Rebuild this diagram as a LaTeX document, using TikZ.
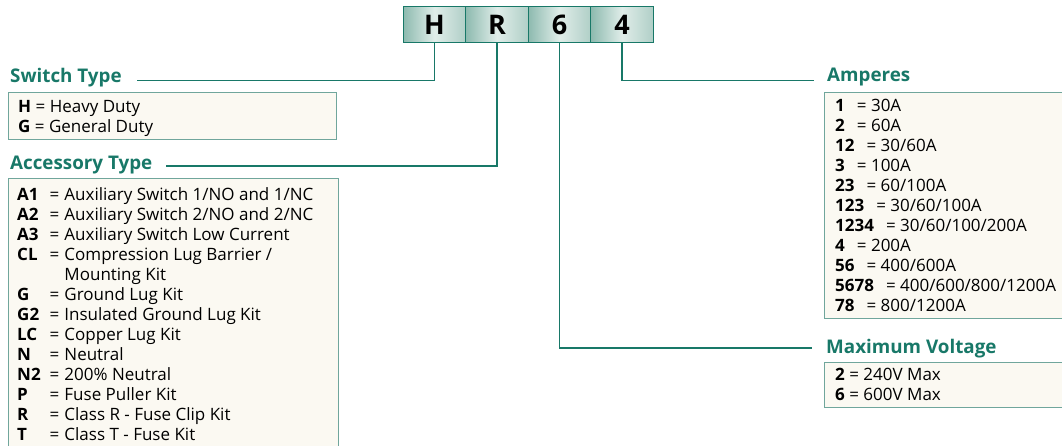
\documentclass[tikz,border=0pt]{standalone}
\usepackage{fontspec}
\setmainfont{Open Sans}
\usetikzlibrary{positioning}
\definecolor{petrol}{RGB}{24,120,104}
\definecolor{boxline}{RGB}{112,166,156}
\definecolor{cream}{RGB}{251,249,242}
\definecolor{celldark}{RGB}{141,186,175}
\definecolor{celllight}{RGB}{224,237,233}
\definecolor{cellmid}{RGB}{176,207,199}
\newcommand{\ampline}[2]{\textbf{#1}\hspace{12pt}= #2}

\begin{document}
\begin{tikzpicture}[x=1pt,y=-1pt,
  cell/.style={draw=petrol,line width=1pt,minimum width=62.5pt,minimum height=36pt,
    inner sep=0pt,outer sep=0pt,left color=celldark,right color=cellmid,middle color=celllight,
    font=\fontsize{27}{27}\selectfont\bfseries},
  title/.style={anchor=base west,inner sep=0pt,text=petrol,font=\fontsize{18.8}{19}\selectfont\bfseries},
  link/.style={draw=petrol,line width=1.2pt},
  panel/.style={draw=boxline,fill=cream,line width=1pt},
  entry/.style={anchor=base west,inner sep=0pt,font=\fontsize{17}{20}\selectfont}]
  \clip (0,0) rectangle (1062,446);
  % code cells
  \node[cell] (h) at (434.5,25) {H};
  \node[cell,right=0pt of h] (r) {R};
  \node[cell,right=0pt of r] (six) {6};
  \node[cell,right=0pt of six] (four) {4};
  % titles
  \node[title] (swtitle) at (10,83) {Switch Type};
  \node[title] (actitle) at (10,170) {Accessory Type};
  \node[title] (amptitle) at (827,82) {Amperes};
  \node[title] (volttitle) at (826,353) {Maximum Voltage};
  % panels
  \draw[panel] (8,93) rectangle (336,140);
  \draw[panel] (8,179) rectangle (338,460);
  \draw[panel] (824,93) rectangle (1070,318);
  \draw[panel] (824,362) rectangle (1070,407);
  % connectors
  \coordinate (swend) at (137,80.5);
  \coordinate (acend) at (166,166);
  \coordinate (ampend) at (814,80.5);
  \coordinate (voltend) at (812,348);
  \draw[link] (h.south) |- (swend);
  \draw[link] (r.south) |- (acend);
  \draw[link] (six.south) |- (voltend);
  \draw[link] (four.south) |- (ampend);
  % entries
  \node[entry] (swlist) at (18,113) {\begin{tabular}[t]{@{}l@{}}
    \textbf{H} = Heavy Duty\\
    \textbf{G} = General Duty
  \end{tabular}};
  \node[entry] (aclist) at (17,200.5) {\begin{tabular}[t]{@{}l@{\hspace{9pt}}l@{\hspace{5pt}}l@{}}
    \textbf{A1} & = & Auxiliary Switch 1/NO and 1/NC\\
    \textbf{A2} & = & Auxiliary Switch 2/NO and 2/NC\\
    \textbf{A3} & = & Auxiliary Switch Low Current\\
    \textbf{CL} & = & Compression Lug Barrier /\\
                &   & Mounting Kit\\
    \textbf{G}  & = & Ground Lug Kit\\
    \textbf{G2} & = & Insulated Ground Lug Kit\\
    \textbf{LC} & = & Copper Lug Kit\\
    \textbf{N}  & = & Neutral\\
    \textbf{N2} & = & 200\% Neutral\\
    \textbf{P}  & = & Fuse Puller Kit\\
    \textbf{R}  & = & Class R - Fuse Clip Kit\\
    \textbf{T}  & = & Class T - Fuse Kit
  \end{tabular}};
  \node[entry] (amplist) at (835,111.5) {\begin{tabular}[t]{@{}l@{}}
    \ampline{1}{30A}\\
    \ampline{2}{60A}\\
    \ampline{12}{30/60A}\\
    \ampline{3}{100A}\\
    \ampline{23}{60/100A}\\
    \ampline{123}{30/60/100A}\\
    \ampline{1234}{30/60/100/200A}\\
    \ampline{4}{200A}\\
    \ampline{56}{400/600A}\\
    \ampline{5678}{400/600/800/1200A}\\
    \ampline{78}{800/1200A}
  \end{tabular}};
  \node[entry] (voltlist) at (835,380) {\begin{tabular}[t]{@{}l@{}}
    \textbf{2} = 240V Max\\
    \textbf{6} = 600V Max
  \end{tabular}};
\end{tikzpicture}
\end{document}
